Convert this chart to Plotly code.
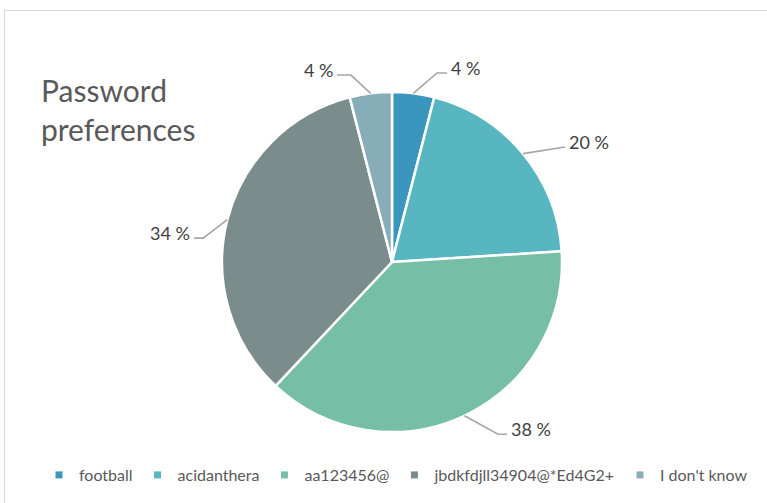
import math
import plotly.graph_objects as go

# Survey answers and their shares (percent)
categories = ["football", "acidanthera", "aa123456@", "jbdkfdjll34904@*Ed4G2+", "I don't know"]
shares = [4, 20, 38, 34, 4]
colors = ["#3a96bc", "#58b6c1", "#77bea6", "#7b8c8d", "#86adb8"]

# Label placement for each slice: (elbow angle clockwise from 12 o'clock in degrees,
# elbow radius as a multiple of the pie radius, horizontal tail length in px)
label_place = [(13.4, 1.143, 10), (56.4, 1.222, 0), (148.4, 1.19, 9), (277.2, 1.12, 9), (347.6, 1.126, 14)]

W, H = 767, 503
CX, CY, R = 392, 262, 170

fig = go.Figure()

fig.add_trace(go.Pie(
    labels=categories,
    values=shares,
    sort=False,
    direction="clockwise",
    rotation=0,
    marker=dict(colors=colors, line=dict(color="white", width=2.5)),
    textinfo="none",
    hoverinfo="skip",
    showlegend=False,
    domain=dict(x=[(CX - R) / W, (CX + R) / W], y=[1 - (CY + R) / H, 1 - (CY - R) / H]),
))

# Legend entries with small square keys
for name, col in zip(categories, colors):
    fig.add_trace(go.Scatter(
        x=[None], y=[None], mode="markers", name=name,
        marker=dict(symbol="square", size=7, color=col),
        hoverinfo="skip",
    ))

shapes = []
annotations = []
total = sum(shares)
cum = 0
for v, (ang, rf, tail) in zip(shares, label_place):
    mid = (cum + v / 2) / total * 2 * math.pi
    cum += v
    x0 = CX + R * math.sin(mid)
    y0 = CY - R * math.cos(mid)
    a = math.radians(ang)
    x1 = CX + R * rf * math.sin(a)
    y1 = CY - R * rf * math.cos(a)
    side = 1 if math.sin(a) >= 0 else -1
    x2 = x1 + side * tail
    shapes.append(dict(type="path", xref="x", yref="y",
                       path=f"M{x0},{y0} L{x1},{y1} L{x2},{y1}",
                       line=dict(color="#a6a6a6", width=1.6)))
    pct = round(v / total * 100)
    annotations.append(dict(
        x=x2 + side * 2, y=y1 - 5, xref="x", yref="y",
        text=f"{pct} %", showarrow=False,
        xanchor="left" if side > 0 else "right", yanchor="middle",
        font=dict(family="Lato, sans-serif", size=18, color="#404040"),
    ))

# Chart frame
shapes.append(dict(type="rect", xref="x", yref="y", x0=4.5, y0=10.5, x1=W + 20, y1=H + 20,
                   line=dict(color="#d9d9d9", width=1.2), layer="below"))

annotations.append(dict(
    x=39, y=70, xref="x", yref="y", text="Password<br>preferences", showarrow=False,
    xanchor="left", yanchor="top", align="left",
    font=dict(family="Lato, sans-serif", size=30, color="#595959"),
))

fig.update_layout(
    width=W, height=H,
    margin=dict(l=0, r=0, t=0, b=0),
    paper_bgcolor="white", plot_bgcolor="rgba(0,0,0,0)",
    xaxis=dict(range=[0, W], visible=False, fixedrange=True, domain=[0, 1]),
    yaxis=dict(range=[H, 0], visible=False, fixedrange=True, domain=[0, 1]),
    shapes=shapes,
    annotations=annotations,
    showlegend=True,
    legend=dict(orientation="h", x=396 / W, xanchor="center", y=1 - 475 / H, yanchor="middle",
                font=dict(family="Lato, sans-serif", size=16, color="#595959"),
                itemwidth=30, bgcolor="rgba(0,0,0,0)"),
)

fig.write_html("out.html")
